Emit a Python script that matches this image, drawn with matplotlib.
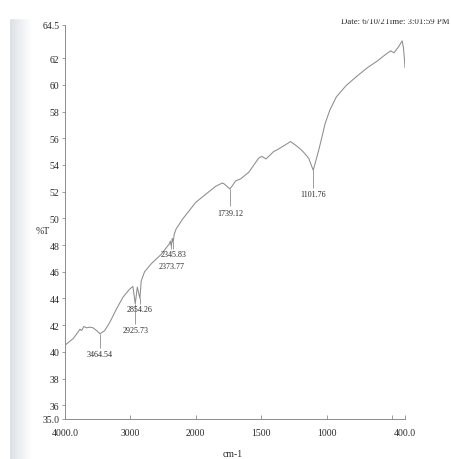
import numpy as np
import matplotlib.pyplot as plt
from matplotlib.patches import Rectangle

# spectrum (cm-1 vs %T), peaks are merged in below
wavenumber = [4000, 3874, 3798, 3772, 3746, 3711, 3670, 3620, 3570, 3518,
              3392, 3316, 3214, 3113, 3011, 2961, 2894, 2835, 2783, 2681,
              2529, 2403, 2390, 2360, 2330, 2301, 2201, 2000, 1937, 1848,
              1797, 1785, 1716, 1696, 1658, 1595, 1520, 1494, 1463, 1405,
              1367, 1316, 1275, 1239, 1201, 1175, 1136, 1060, 1035, 1011,
              975, 925, 850, 774, 686, 610, 546, 509, 484, 446,
              422, 412, 405, 400]
transmittance = [40.5, 41.0, 41.5, 41.7, 41.6, 41.9, 41.8, 41.85, 41.8, 41.6,
                 41.6, 42.2, 43.2, 44.1, 44.7, 44.9, 44.85, 45.3, 46.0, 46.6,
                 47.3, 48.1, 48.3, 48.5, 48.8, 49.2, 49.95, 51.2, 51.7, 52.4,
                 52.65, 52.6, 52.5, 52.8, 52.95, 53.45, 54.5, 54.65, 54.45, 55.0,
                 55.2, 55.5, 55.75, 55.5, 55.2, 54.95, 54.5, 55.1, 56.1, 57.1,
                 58.1, 59.1, 59.95, 60.6, 61.3, 61.8, 62.3, 62.55, 62.4, 62.9,
                 63.3, 62.8, 62.0, 61.3]

peak_wn = [3464.54, 2925.73, 2854.26, 2373.77, 2345.83, 1739.12, 1101.76]
peak_T = [41.35, 43.6, 44.0, 47.9, 48.2, 52.2, 53.6]
label_T = [39.85, 41.6, 43.2, 46.45, 47.35, 50.4, 51.8]
stem_end_T = [40.3, 42.1, 43.6, 47.7, 47.7, 50.9, 52.3]

xticks = [4000, 3000, 2000, 1500, 1000, 500, 400]
xticklabels = ['4000.0', '3000', '2000', '1500', '1000', '', '400.0']
yticks = [35, 36, 38, 40, 42, 44, 46, 48, 50, 52, 54, 56, 58, 60, 62, 64.5]
yticklabels = ['35.0', '36', '38', '40', '42', '44', '46', '48', '50', '52',
               '54', '56', '58', '60', '62', '64.5']

plt.rcParams['font.family'] = ['Liberation Serif', 'DejaVu Serif']
ink = '#2a2a2a'
trace = '#8c8c8c'


# wavenumber axis is compressed by 2 above 2000 cm-1
def fwd(x):
    x = np.asarray(x, dtype=float)
    return np.where(x > 2000, 2000 + (x - 2000) / 2, x)


def inv(u):
    u = np.asarray(u, dtype=float)
    return np.where(u > 2000, 2000 + (u - 2000) * 2, u)


wn = np.array(wavenumber + peak_wn)
tr = np.array(transmittance + peak_T)
order = np.argsort(wn)[::-1]
wn, tr = wn[order], tr[order]

fig = plt.figure(figsize=(4.52, 4.60), dpi=100)

# scanner edge on the left of the page
strip = fig.add_axes([10 / 452, 0, 22 / 452, 1 - 17 / 460])
grad = np.linspace(0, 1, 64)[None, :]
strip.imshow(grad, cmap=plt.matplotlib.colors.LinearSegmentedColormap.from_list(
    'edge', ['#dce1e7', '#ffffff']), aspect='auto', extent=[0, 1, 0, 1])
strip.axis('off')

ax = fig.add_axes([65 / 452, 1 - 419.6 / 460, 340 / 452, (419.6 - 25.8) / 460])
ax.set_xscale('function', functions=(fwd, inv))
ax.plot(wn, tr, color=trace, lw=0.75)
ax.vlines(peak_wn, stem_end_T, peak_T, color=trace, lw=0.6)
for w, t in zip(peak_wn, label_T):
    ax.text(w, t, '%.2f' % w, ha='center', va='center', fontsize=5.8, color=ink)

ax.set_xlim(4000, 400)
ax.set_ylim(35, 64.5)
ax.set_xticks(xticks)
ax.set_xticklabels(xticklabels)
ax.set_yticks(yticks)
ax.set_yticklabels(yticklabels)
ax.minorticks_off()
ax.tick_params(axis='x', direction='in', length=3, pad=7, labelsize=7,
               colors=trace, labelcolor=ink, width=0.6)
ax.tick_params(axis='y', direction='out', length=2.5, pad=1.5, labelsize=7,
               colors=trace, labelcolor=ink, width=0.6)
for s in ['top', 'right']:
    ax.spines[s].set_visible(False)
for s in ['left', 'bottom']:
    ax.spines[s].set_color(trace)
    ax.spines[s].set_linewidth(0.7)
ax.patch.set_alpha(0)

fig.text(233 / 452, 1 - 455 / 460, 'cm-1', ha='center', va='center',
         fontsize=7, color=ink)
fig.text(43 / 452, 1 - 232 / 460, '%T', ha='center', va='center',
         fontsize=7, color=ink)

# header line, top of the page is cut off
fig.text(450 / 452, 1 - 23.5 / 460, 'Date: 6/10/2Time: 3:01:59 PM', ha='right',
         va='baseline', fontsize=6.3, color=ink)
fig.patches.append(Rectangle((0, 1 - 18.5 / 460), 1, 18.5 / 460,
                             transform=fig.transFigure, color='white', zorder=10))

fig.savefig('out.png', dpi=100, facecolor='white')
